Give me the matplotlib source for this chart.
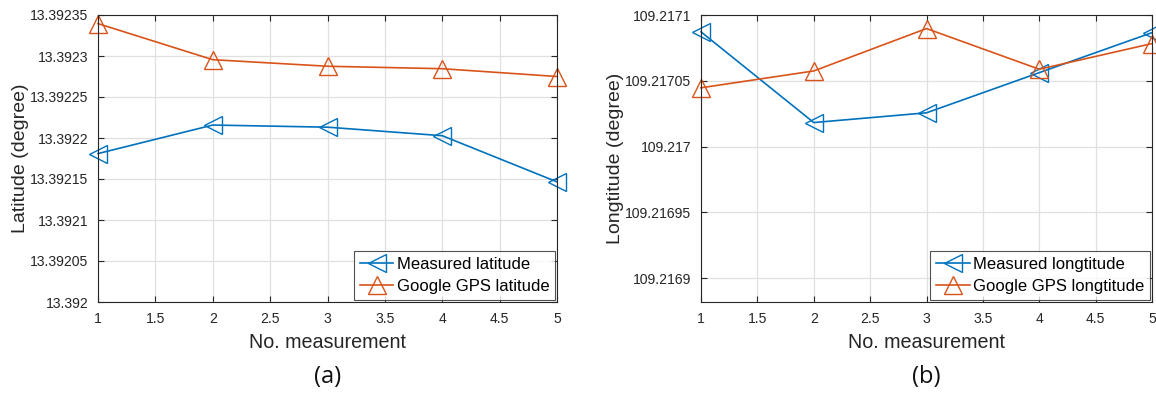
import matplotlib

matplotlib.use("Agg")
import matplotlib.pyplot as plt

# data
MEAS = [1, 2, 3, 4, 5]
LAT_MEASURED = [13.3921810, 13.3922158, 13.3922132, 13.3922028, 13.3921465]
LAT_GOOGLE = [13.3923395, 13.3922955, 13.3922875, 13.3922845, 13.3922750]
LON_MEASURED = [109.2170872, 109.2170183, 109.2170257, 109.2170562, 109.2170866]
LON_GOOGLE = [109.2170447, 109.2170575, 109.2170897, 109.2170588, 109.2170783]

X_TICKS = [1, 1.5, 2, 2.5, 3, 3.5, 4, 4.5, 5]
LAT_TICKS = [13.392, 13.39205, 13.3921, 13.39215, 13.3922, 13.39225, 13.3923, 13.39235]
LAT_LABELS = ["13.392", "13.39205", "13.3921", "13.39215", "13.3922", "13.39225", "13.3923", "13.39235"]
LON_TICKS = [109.2169, 109.21695, 109.217, 109.21705, 109.2171]
LON_LABELS = ["109.2169", "109.21695", "109.217", "109.21705", "109.2171"]

BLUE = "#0072BD"
ORANGE = "#D95319"
INK = "#262626"

plt.rcParams["font.family"] = ["Liberation Sans", "DejaVu Sans"]

fig = plt.figure(figsize=(11.56, 3.94), dpi=100)
ax_a = fig.add_axes([98 / 1156, 92 / 394, 459 / 1156, 287 / 394])
ax_b = fig.add_axes([701 / 1156, 92 / 394, 451 / 1156, 287 / 394])


def style(ax, yticks, ylabels, ylim, ylabel, legend_labels, tag):
    ax.set_xlim(1, 5)
    ax.set_ylim(*ylim)
    ax.set_xticks(X_TICKS)
    ax.set_xticklabels([f"{t:g}" for t in X_TICKS])
    ax.set_yticks(yticks)
    ax.set_yticklabels(ylabels)
    ax.tick_params(direction="in", length=4, width=0.8, colors=INK, labelsize=10.1,
                   top=True, right=True)
    ax.tick_params(axis="x", pad=7)
    ax.tick_params(axis="y", pad=7)
    for s in ax.spines.values():
        s.set_color(INK)
        s.set_linewidth(0.8)
    ax.grid(True, color="#e0e0e0", linewidth=0.9)
    ax.set_axisbelow(True)
    ax.set_xlabel("No. measurement", fontsize=14.2, color=INK, labelpad=5)
    ax.set_ylabel(ylabel, fontsize=14, color=INK, labelpad=1)
    leg = ax.legend(legend_labels, loc="lower right", fontsize=12, frameon=True, fancybox=False,
                    borderpad=0.35, handlelength=2.0, handletextpad=0.2, labelspacing=0.45,
                    borderaxespad=0.12)
    leg.get_frame().set_edgecolor(INK)
    leg.get_frame().set_linewidth(0.8)
    ax.text(0.5, -0.262, tag, transform=ax.transAxes, ha="center", va="center",
            fontsize=17, family="Open Sans", color="#111111")


mk = dict(fillstyle="none", markersize=13, markeredgewidth=1.0, linewidth=1.2, clip_on=False)

ax_a.plot(MEAS, LAT_MEASURED, marker="<", color=BLUE, **mk)
ax_a.plot(MEAS, LAT_GOOGLE, marker="^", color=ORANGE, **mk)
style(ax_a, LAT_TICKS, LAT_LABELS, (13.392, 13.39235), "Latitude (degree)",
      ["Measured latitude", "Google GPS latitude"], "(a)")

ax_b.plot(MEAS, LON_MEASURED, marker="<", color=BLUE, **mk)
ax_b.plot(MEAS, LON_GOOGLE, marker="^", color=ORANGE, **mk)
style(ax_b, LON_TICKS, LON_LABELS, (109.216882, 109.2171), "Longtitude (degree)",
      ["Measured longtitude", "Google GPS longtitude"], "(b)")

fig.savefig("out.png", dpi=100, facecolor="white")
